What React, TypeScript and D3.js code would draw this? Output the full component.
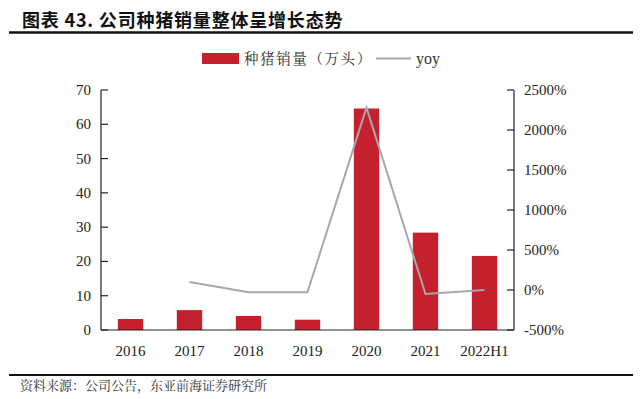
import * as d3 from 'd3';

const categories = ['2016', '2017', '2018', '2019', '2020', '2021', '2022H1'];
const sales = [3.2, 5.8, 4.1, 3.0, 64.6, 28.4, 21.6];
const yoy: (number | null)[] = [null, 100, -27, -27, 2280, -50, 0];
const leftTicks = [0, 10, 20, 30, 40, 50, 60, 70];
const rightTicks = [-500, 0, 500, 1000, 1500, 2000, 2500];

const W = 640;
const H = 399;
const plot = { left: 101, right: 514, top: 90, bottom: 330 };
const RED = '#C4202D';
const GRAY = '#A8A8A8';
const SERIF = '"Liberation Serif", "Times New Roman", "Noto Serif CJK SC", "Noto Sans CJK SC", serif';

export default function App() {
  const x = d3.scaleBand<string>()
    .domain(categories)
    .range([plot.left, plot.right])
    .paddingInner(0.57)
    .paddingOuter(0.285);
  const yL = d3.scaleLinear().domain([0, 70]).range([plot.bottom, plot.top]);
  const yR = d3.scaleLinear().domain([-500, 2500]).range([plot.bottom, plot.top]);

  const linePts = categories
    .map((c, i) => ({ c, v: yoy[i] }))
    .filter(d => d.v !== null) as { c: string; v: number }[];
  const line = d3.line<{ c: string; v: number }>()
    .x(d => (x(d.c) ?? 0) + x.bandwidth() / 2)
    .y(d => yR(d.v));

  return (
    <svg width={W} height={H} style={{ position: 'absolute', left: 0, top: 0, background: '#fff' }}>
      {/* title */}
      <text x={22} y={27} fontSize={18} fontWeight="bold" fill="#111" letterSpacing={0.8}
        fontFamily='"Noto Sans CJK SC", "Liberation Sans", sans-serif'>
        图表 43. 公司种猪销量整体呈增长态势
      </text>
      <line x1={9} x2={633} y1={32.5} y2={32.5} stroke="#111" strokeWidth={2.5} />

      {/* legend */}
      <rect x={202} y={53} width={37} height={11} fill={RED} />
      <text x={244} y={64} fontSize={14.5} fill="#333" letterSpacing={1.6} fontFamily={SERIF}>种猪销量（万头）</text>
      <line x1={376} x2={411} y1={58.5} y2={58.5} stroke={GRAY} strokeWidth={2} />
      <text x={416} y={64} fontSize={16} fill="#333" fontFamily={SERIF}>yoy</text>

      {/* bars */}
      {categories.map((c, i) => (
        <rect key={c} x={x(c)} y={yL(sales[i])} width={x.bandwidth()}
          height={yL(0) - yL(sales[i])} fill={RED} />
      ))}

      {/* yoy line */}
      <path d={line(linePts) ?? ''} fill="none" stroke={GRAY} strokeWidth={2} />

      {/* left axis */}
      <line x1={plot.left} x2={plot.left} y1={plot.top} y2={plot.bottom} stroke="#222" strokeWidth={1.2} />
      {leftTicks.map(t => (
        <g key={t}>
          <line x1={plot.left} x2={plot.left + 7} y1={yL(t)} y2={yL(t)} stroke="#222" strokeWidth={1.2} />
          <text x={91} y={yL(t) + 5} textAnchor="end" fontSize={15} fill="#222" fontFamily={SERIF}>{t}</text>
        </g>
      ))}

      {/* right axis */}
      <line x1={plot.right} x2={plot.right} y1={plot.top} y2={plot.bottom} stroke="#222" strokeWidth={1.2} />
      {rightTicks.map(t => (
        <g key={t}>
          <line x1={plot.right - 7} x2={plot.right} y1={yR(t)} y2={yR(t)} stroke="#222" strokeWidth={1.2} />
          <text x={524} y={yR(t) + 5} fontSize={15} fill="#222" fontFamily={SERIF}>{t}%</text>
        </g>
      ))}

      {/* x axis */}
      <line x1={plot.left} x2={plot.right} y1={plot.bottom} y2={plot.bottom} stroke="#222" strokeWidth={1.2} />
      {categories.map(c => (
        <text key={c} x={(x(c) ?? 0) + x.bandwidth() / 2} y={356} textAnchor="middle"
          fontSize={15} fill="#222" fontFamily={SERIF}>{c}</text>
      ))}

      {/* footer */}
      <line x1={9} x2={633} y1={375} y2={375} stroke="#111" strokeWidth={2} />
      <text x={20} y={390} fontSize={13} fill="#333" fontFamily={SERIF}>资料来源：公司公告，东亚前海证券研究所</text>
    </svg>
  );
}
